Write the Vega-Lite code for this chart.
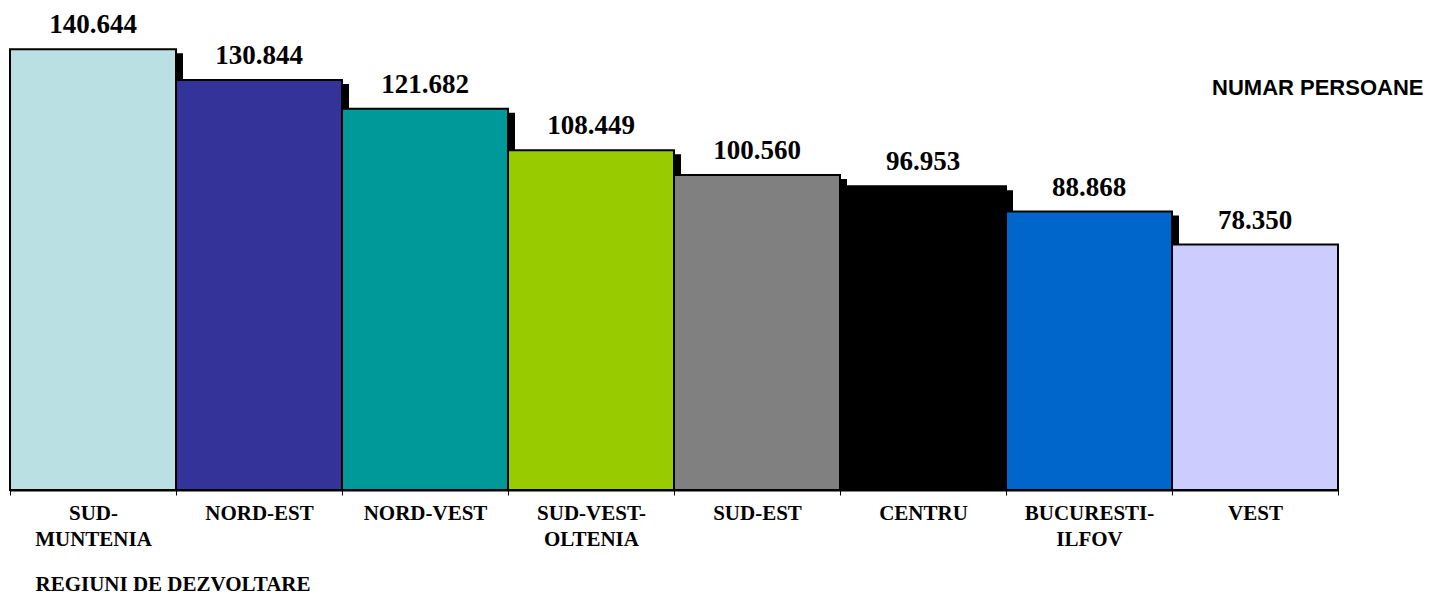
{
  "$schema": "https://vega.github.io/schema/vega-lite/v6.json",
  "width": 1328,
  "height": 470,
  "autosize": "none",
  "padding": {"left": 10, "top": 20, "right": 95, "bottom": 104},
  "background": "white",
  "config": {
    "view": {"stroke": null},
    "locale": {"number": {"decimal": ",", "thousands": ".", "grouping": [3], "currency": ["", ""]}}
  },
  "data": {
    "values": [
      {"regiune": "SUD-MUNTENIA", "persoane": 140644},
      {"regiune": "NORD-EST", "persoane": 130844},
      {"regiune": "NORD-VEST", "persoane": 121682},
      {"regiune": "SUD-VEST-OLTENIA", "persoane": 108449},
      {"regiune": "SUD-EST", "persoane": 100560},
      {"regiune": "CENTRU", "persoane": 96953},
      {"regiune": "BUCURESTI-ILFOV", "persoane": 88868},
      {"regiune": "VEST", "persoane": 78350}
    ]
  },
  "encoding": {
    "x": {
      "field": "regiune",
      "type": "nominal",
      "sort": null,
      "scale": {"paddingInner": 0, "paddingOuter": 0},
      "axis": {
        "title": "REGIUNI DE DEZVOLTARE",
        "titleFont": "Liberation Serif",
        "titleFontSize": 21,
        "titleFontWeight": "bold",
        "titleColor": "black",
        "titleAlign": "left",
        "titleAnchor": null,
        "titleBaseline": "alphabetic",
        "titleX": 25,
        "titleY": 100,
        "labelAngle": 0,
        "labelFont": "Liberation Serif",
        "labelFontSize": 21,
        "labelFontWeight": "bold",
        "labelColor": "black",
        "labelLineHeight": 26,
        "labelPadding": 7,
        "labelExpr": "length(datum.label) > 10 ? [slice(datum.label, 0, lastindexof(datum.label, '-') + 1), slice(datum.label, lastindexof(datum.label, '-') + 1)] : datum.label",
        "domainColor": "black",
        "domainWidth": 2,
        "tickColor": "black",
        "tickWidth": 1,
        "tickSize": 5,
        "tickBand": "extent",
        "grid": false
      }
    },
    "y": {
      "field": "persoane",
      "type": "quantitative",
      "scale": {"domain": [0, 150000], "nice": false},
      "axis": {
        "orient": "right",
        "title": "NUMAR PERSOANE",
        "titleFont": "Liberation Sans",
        "titleFontSize": 22,
        "titleFontWeight": "bold",
        "titleColor": "black",
        "titleAngle": 0,
        "titleAlign": "right",
        "titleAnchor": null,
        "titleBaseline": "alphabetic",
        "titleX": 85,
        "titleY": 74,
        "labels": false,
        "ticks": false,
        "domain": false,
        "grid": false
      }
    }
  },
  "layer": [
    {
      "mark": {"type": "bar", "color": "black", "xOffset": 7, "yOffset": 4, "y2Offset": 4, "clip": true}
    },
    {
      "mark": {"type": "bar", "stroke": "black", "strokeWidth": 2},
      "encoding": {
        "color": {
          "field": "regiune",
          "type": "nominal",
          "legend": null,
          "scale": {
            "domain": ["SUD-MUNTENIA", "NORD-EST", "NORD-VEST", "SUD-VEST-OLTENIA", "SUD-EST", "CENTRU", "BUCURESTI-ILFOV", "VEST"],
            "range": ["#BBE0E3", "#333399", "#009999", "#99CC00", "#808080", "#000000", "#0066CC", "#CCCCFF"]
          }
        }
      }
    },
    {
      "mark": {"type": "text", "font": "Liberation Serif", "fontSize": 27, "fontWeight": "bold", "color": "black", "baseline": "alphabetic", "dy": -16},
      "encoding": {
        "text": {"field": "persoane", "type": "quantitative", "format": ",.0f"}
      }
    }
  ]
}
